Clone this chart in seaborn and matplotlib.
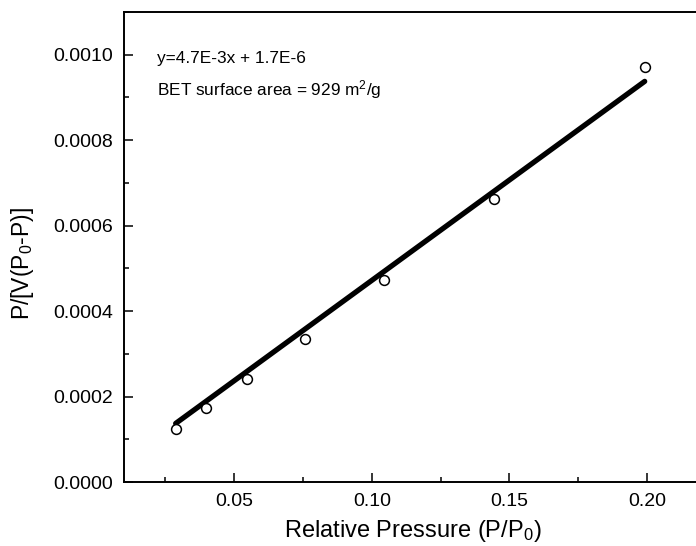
import numpy as np
import pandas as pd
import matplotlib
matplotlib.use("Agg")
import matplotlib.pyplot as plt
import seaborn as sns
from matplotlib.ticker import MultipleLocator

# BET data
rel_pressure = [0.0288, 0.0398, 0.0548, 0.0757, 0.1045, 0.1444, 0.1991]
bet_value = [0.0001245, 0.000173, 0.000241, 0.000334, 0.000472, 0.000663, 0.000972]

# linear fit shown on the chart
slope = 4.7e-3
intercept = 1.7e-6
fit_x = [rel_pressure[0], rel_pressure[-1]]
fit_y = [slope * x + intercept for x in fit_x]

x_ticks = [0.05, 0.10, 0.15, 0.20]
y_ticks = [0.0000, 0.0002, 0.0004, 0.0006, 0.0008, 0.0010]

sns.set_style("ticks", {'axes.edgecolor': 'black', 'text.color': 'black',
                        'xtick.color': 'black', 'ytick.color': 'black',
                        'axes.labelcolor': 'black'})
plt.rcParams['font.family'] = ['Liberation Sans', 'DejaVu Sans']
plt.rcParams['mathtext.fontset'] = 'custom'
plt.rcParams['mathtext.rm'] = 'Liberation Sans'
plt.rcParams['mathtext.it'] = 'Liberation Sans'

fig = plt.figure(figsize=(6.96, 5.46), dpi=100)
ax = fig.add_axes([0.178, 0.1172, 0.831, 0.861])

pts = pd.DataFrame({'x': rel_pressure, 'y': bet_value})
fit = pd.DataFrame({'x': fit_x, 'y': fit_y})

sns.lineplot(data=fit, x='x', y='y', ax=ax, color='black', linewidth=3.8, zorder=2)
sns.scatterplot(data=pts, x='x', y='y', ax=ax, marker='o', s=50,
                facecolor='white', edgecolor='black', linewidth=1.1, zorder=3)

ax.set_xlim(0.01, 0.22)
ax.set_ylim(0, 0.0011)
ax.set_xticks(x_ticks)
ax.set_xticklabels([f"{v:.2f}" for v in x_ticks])
ax.set_yticks(y_ticks)
ax.set_yticklabels([f"{v:.4f}" for v in y_ticks])
ax.xaxis.set_minor_locator(MultipleLocator(0.025))
ax.yaxis.set_minor_locator(MultipleLocator(0.0001))
ax.tick_params(which='both', direction='in', width=1.1, labelsize=14, pad=8,
               colors='black')
ax.tick_params(which='major', length=6.5)
ax.tick_params(which='minor', length=3.6)
for s in ax.spines.values():
    s.set_linewidth(1.4)
    s.set_color('black')
    s.set_visible(True)

ax.set_xlabel(r'Relative Pressure (P/P$_0$)', fontsize=17, labelpad=6)
ax.set_ylabel(r'P/[V(P$_0$-P)]', fontsize=16.5)
ax.yaxis.set_label_coords(-0.152, 0.466)

ax.text(0.057, 0.9, 'y=4.7E-3x + 1.7E-6', transform=ax.transAxes,
        fontsize=12.4, va='center', ha='left')
ax.text(0.057, 0.834, r'BET surface area = 929 m$^2$/g', transform=ax.transAxes,
        fontsize=12.4, va='center', ha='left')

fig.savefig('out.png', dpi=100)
